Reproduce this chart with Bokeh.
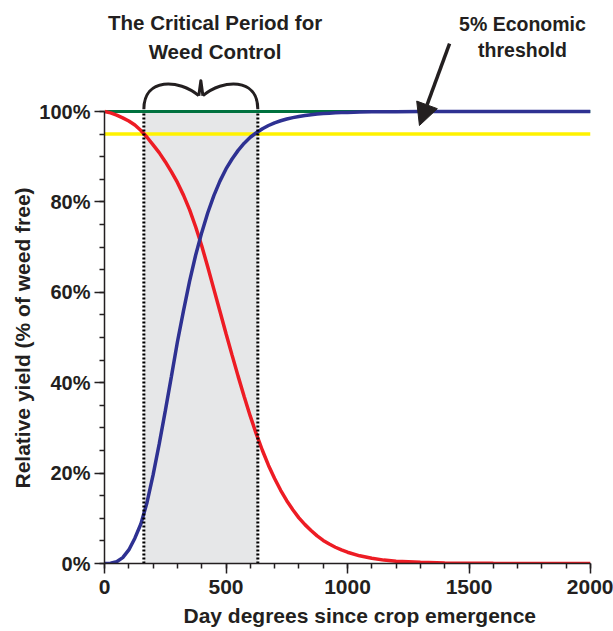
from bokeh.plotting import figure
from bokeh.models import (Range1d, SingleIntervalTicker, PrintfTickFormatter, Label,
                          Arrow, NormalHead, Title)
from bokeh.embed import file_html
from bokeh.resources import INLINE

# ---------------- data ----------------
day_degrees = [0, 25, 50, 75, 100, 125, 150, 175, 200, 225, 250, 275, 300, 325, 350,
               375, 400, 425, 450, 475, 500, 525, 550, 575, 600, 625, 650, 675, 700,
               725, 750, 775, 800, 825, 850, 875, 900, 925, 950, 975, 1000, 1050, 1100,
               1150, 1200, 1300, 1400, 1500, 1600, 1800, 2000]

# weed removal timing (red, decreasing)
yield_weed_removal = [100, 99.7, 99.2, 98.6, 97.9, 97.0, 95.8, 94.3, 92.6, 90.9, 88.9,
                      86.7, 84.3, 81.5, 78.3, 74.5, 70.3, 65.6, 60.7, 55.8, 50.9, 46.1,
                      41.4, 36.9, 32.6, 28.6, 25.0, 21.7, 18.8, 16.2, 13.9, 11.9, 10.1,
                      8.6, 7.3, 6.1, 5.1, 4.3, 3.6, 3.0, 2.5, 1.7, 1.15, 0.75, 0.5, 0.25,
                      0.12, 0.06, 0.03, 0.01, 0.0]

# weed-free period (blue, increasing)
yield_weed_free = [0, 0.05, 0.4, 1.3, 3.0, 5.6, 8.8, 13.5, 19.6, 26.4, 33.7, 41.3, 49.0,
                   55.9, 62.4, 68.2, 73.2, 77.6, 81.4, 84.6, 87.3, 89.5, 91.4, 93.0, 94.3,
                   95.3, 96.2, 96.9, 97.5, 97.95, 98.35, 98.65, 98.9, 99.1, 99.3, 99.45,
                   99.55, 99.63, 99.7, 99.76, 99.8, 99.87, 99.92, 99.95, 99.97, 99.99,
                   100, 100, 100, 100, 100]

weed_free_level = 100          # green reference line
threshold_level = 95           # 5% economic threshold (yellow)
line_x = [0, 2000]

cp_start = 162                 # critical period begins
cp_end = 631                   # critical period ends

x_ticks_interval = 500
y_ticks_interval = 20

title_lines = ["The Critical Period for", "Weed Control"]
threshold_lines = ["5% Economic", "threshold"]
x_title = "Day degrees since crop emergence"
y_title = "Relative yield (% of weed free)"

# ---------------- styling ----------------
FONT = "Liberation Sans"
INK = "#231f20"
RED = "#ed1c24"
BLUE = "#2e3192"
GREEN = "#00723f"
YELLOW = "#fff200"
SHADE = "#e6e7e8"

p = figure(width=613, height=631,
           x_range=Range1d(0, 2000), y_range=Range1d(0, 124.56),
           output_backend="svg", toolbar_location=None,
           min_border_left=104, min_border_right=23, min_border_top=0,
           min_border_bottom=68)
p.outline_line_color = None
p.xgrid.visible = False
p.ygrid.visible = False
p.background_fill_color = "white"

# shaded critical period
p.quad(left=[cp_start], right=[cp_end], bottom=[0], top=[weed_free_level],
       fill_color=SHADE, line_color=None)

# reference lines
p.line(line_x, [threshold_level] * 2, line_color=YELLOW, line_width=3.5)
p.line(line_x, [weed_free_level] * 2, line_color=GREEN, line_width=3)

# curves
p.line(day_degrees, yield_weed_removal, line_color=RED, line_width=3.5)
p.line(day_degrees, yield_weed_free, line_color=BLUE, line_width=3.5)

# dotted boundaries of the critical period
p.segment(x0=[cp_start, cp_end], y0=[0, 0], x1=[cp_start, cp_end],
          y1=[weed_free_level] * 2, line_color="#000000", line_width=3,
          line_dash="2 2")

# brace over the critical period
mid = (cp_start + cp_end) / 2
dip_off = 8.5
p.bezier(x0=[cp_start, mid + dip_off], y0=[100.5, 103.5],
         x1=[mid - dip_off, cp_end], y1=[103.5, 100.5],
         cx0=[cp_start, mid + 90], cy0=[107.6, 107.2],
         cx1=[mid - 90, cp_end], cy1=[107.2, 107.6],
         line_color=INK, line_width=3)
p.line([mid - dip_off, mid, mid + dip_off], [103.5, 106.8, 103.5],
       line_color=INK, line_width=3, line_join="round")

# axes
for ax in (p.xaxis, p.yaxis):
    ax.axis_line_color = INK
    ax.axis_line_width = 1.5
    ax.major_tick_line_color = INK
    ax.minor_tick_line_color = INK
    ax.major_tick_line_width = 1.5
    ax.minor_tick_line_width = 1.5
    ax.major_tick_in = 0
    ax.major_tick_out = 10
    ax.minor_tick_in = 0
    ax.minor_tick_out = 5
    ax.major_label_text_font = FONT
    ax.major_label_text_font_style = "bold"
    ax.major_label_text_color = INK

p.xaxis.bounds = (0, 2000)
p.yaxis.bounds = (0, 100)
p.xaxis.ticker = SingleIntervalTicker(interval=x_ticks_interval, num_minor_ticks=5)
p.yaxis.ticker = SingleIntervalTicker(interval=y_ticks_interval, num_minor_ticks=4)
p.yaxis.formatter = PrintfTickFormatter(format="%d%%")
p.xaxis.major_label_text_font_size = "21px"
p.yaxis.major_label_text_font_size = "20px"
p.xaxis.major_label_standoff = 6
p.yaxis.major_label_standoff = 4

# axis titles (as side titles so they can be placed like the reference)
p.add_layout(Title(text=y_title, align="left", offset=75, standoff=5,
                   text_font=FONT, text_font_style="bold", text_font_size="21px",
                   text_color=INK), "left")
p.add_layout(Title(text=x_title, align="left", offset=79, standoff=10,
                   text_font=FONT, text_font_style="bold", text_font_size="21px",
                   text_color=INK), "below")

def add_text(x, y, text, size="20px"):
    p.add_layout(Label(x=x, y=y, text=text,
                       text_font=FONT, text_font_style="bold",
                       text_font_size=size, text_color=INK,
                       text_align="center", text_baseline="alphabetic"))

# annotations
add_text(455, 119.7, title_lines[0], size="20.5px")
add_text(455, 113.3, title_lines[1], size="20.5px")
add_text(1720, 119.4, threshold_lines[0], size="19.5px")
add_text(1720, 113.5, threshold_lines[1], size="19.5px")

p.add_layout(Arrow(end=NormalHead(size=22, fill_color=INK, line_color=INK),
                   x_start=1420, y_start=115.0, x_end=1296, y_end=96.9,
                   line_color=INK, line_width=3.5))

open("out.html", "w").write(file_html(p, INLINE))
